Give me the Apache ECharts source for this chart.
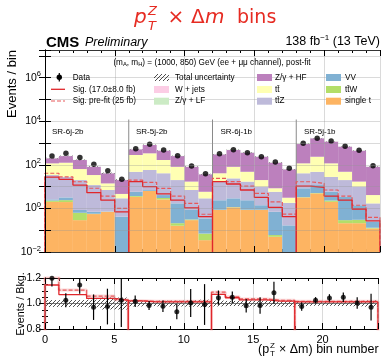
<!DOCTYPE html>
<html>
<head>
<meta charset="utf-8">
<title>pTZ x dm bins</title>
<script src="https://cdn.jsdelivr.net/npm/echarts@6.0.0/dist/echarts.min.js"></script>
<style>
  html, body { margin: 0; padding: 0; background: #fff; }
  #chart { width: 381px; height: 357px; }
</style>
</head>
<body>
<div id="chart"></div>
<script>
// bins of (pT^Z x dm), four signal regions of six bins each
const bins = [0, 1, 2, 3, 4, 5, 6, 7, 8, 9, 10, 11, 12, 13, 14, 15, 16, 17, 18, 19, 20, 21, 22, 23];
const regions = ['SR-6j-2b', 'SR-5j-2b', 'SR-6j-1b', 'SR-5j-1b'];

// post-fit backgrounds, events per bin
const singleT = [2.0, 1.96, 0.29, 0.55, 0.7, 0.005, 3.4, 6.3, 2.6, 0.16, 0.29, 0.035, 0.85, 1.12, 0.85, 0.85, 0.05, 0.005, 3.2, 4.9, 2.0, 0.21, 0.21, 0.12];
const ttW = [0.3, 0.44, 0.34, 0.02, 0.01, 0.001, 0.3, 0.1, 0.4, 0.05, 0.02, 0.035, 0.02, 0.03, 0.02, 0.02, 0.01, 0.002, 0.1, 0.2, 0.3, 0.08, 0.09, 0.01];
const VV = [0.3, 0.8, 0.22, 0.13, 0.02, 0.41, 2.1, 0.6, 1.1, 1.5, 0.54, 0.28, 1.5, 1.75, 1.5, 0.53, 0.64, 0.16, 5.1, 6.7, 3.5, 3.1, 1.1, 0.12];
const ttZ = [31.4, 24.8, 19.2, 11.1, 6.3, 2.5, 42, 51, 37, 18.3, 6.15, 2.55, 14.6, 21, 14.6, 8.6, 5.1, 1.63, 32.6, 36, 22, 16.6, 8.6, 1.45];
const ttbar = [83, 97, 44, 22.2, 7, 1.7, 234, 279, 125, 61, 10, 2.9, 24, 57, 31, 10, 2.6, 1.3, 76, 187, 89, 28, 7, 2.4];
const zHF = [83, 127, 102, 47, 27, 15.4, 233, 473, 279, 171, 64, 31, 261, 397, 312, 215, 117, 59, 783, 1415, 1033, 632, 428, 77];
const wJets = [0.5, 0.6, 0.4, 0.2, 0.1, 0.05, 1.2, 1.8, 1.0, 0.6, 0.2, 0.1, 0.8, 1.2, 0.9, 0.6, 0.3, 0.15, 2.5, 4.0, 3.0, 1.8, 1.2, 0.2];
const zLF = [4, 5, 3, 1.5, 0.8, 0.4, 10, 16, 9, 5, 1.6, 0.7, 6, 10, 7, 5, 2.5, 1.2, 18, 33, 23, 14, 9, 1.6];
const bkgUnc = [0.027, 0.027, 0.027, 0.03, 0.047, 0.047, 0.023, 0.02, 0.023, 0.023, 0.025, 0.03, 0.023, 0.02, 0.023, 0.023, 0.023, 0.025, 0.02, 0.018, 0.018, 0.02, 0.022, 0.025];

const dataObs = [252, 336, 215, 105, 54, 22, 550, 870, 478, 262, 88, 39, 324, 493, 362, 235, 135, 69, 970, 1650, 1230, 708, 464, 91];
const sigPost = [27, 21.6, 11.8, 5.3, 2.4, 0.7, 16.8, 9.9, 4.6, 2.4, 1.07, 0.42, 16.8, 13.2, 7, 3.2, 1.12, 0.42, 10.6, 9.3, 3.7, 2.4, 0.94, 0.27];
const sigPre = [41, 28, 16.7, 8.4, 3.7, 1.0, 20, 15.8, 8.3, 3.7, 1.7, 0.54, 24, 16.8, 10.6, 4.9, 2.0, 0.55, 16.7, 14.2, 7, 3.7, 1.4, 0.39];

// ratio panel
const ratioObs = [1.198, 1.025, 1.146, 0.971, 0.976, 1.025, 1.017, 0.984, 0.979, 0.936, 1.004, 0.992, 1.046, 1.049, 0.982, 0.984, 1.084, null, 0.976, 1.025, 1.044, 1.049, 1.004, 0.971];
const ratioErr = [0.065, 0.055, 0.07, 0.1, 0.14, 0.21, 0.045, 0.035, 0.045, 0.06, 0.11, 0.16, 0.056, 0.045, 0.053, 0.065, 0.086, 0.12, 0.032, 0.025, 0.029, 0.038, 0.046, 0.105];
const sigRatio = [1.145, 1.07, 1.07, 1.04, 1.04, 1.025, 1.02, 1.013, 1.013, 1.012, 1.012, 1.012, 1.071, 1.045, 1.028, 1.028, 1.018, 1.018, 1.013, 1.013, 1.012, 1.012, 1.012, 1.012];
const sigPreRatio = [1.21, 1.105, 1.105, 1.058, 1.058, 1.03, 1.022, 1.018, 1.018, 1.018, 1.018, 1.018, 1.089, 1.053, 1.036, 1.036, 1.026, 1.026, 1.018, 1.018, 1.017, 1.017, 1.017, 1.017];

const xTicks = [0, 5, 10, 15, 20];
const logTicks = [-2, 0, 2, 4, 6];

const FONT = '"Liberation Sans", Arial, sans-serif';
const RED = '#e0262b';
const RED_PRE = '#e8585b';
const YMIN = 0.01, YMAX = 1.86e7;

const hatchImg = (() => {
  const c = document.createElement('canvas');
  c.width = 4; c.height = 4;
  const g = c.getContext('2d');
  g.strokeStyle = '#000';
  g.lineWidth = 0.7;
  g.beginPath();
  g.moveTo(0, 4); g.lineTo(4, 0);
  g.moveTo(-1, 1); g.lineTo(1, -1);
  g.moveTo(3, 5); g.lineTo(5, 3);
  g.stroke();
  return c;
})();
const hatch = { image: hatchImg, repeat: 'repeat' };

// stacking order, bottom first
const bkgSeries = [
  ['single t', singleT, '#fdb462'],
  ['tt\u0304W', ttW, '#b3de69'],
  ['VV', VV, '#80b1d3'],
  ['tt\u0304Z', ttZ, '#bebada'],
  ['tt\u0304', ttbar, '#ffffb3'],
  ['Z/\u03b3 + HF', zHF, '#bc80bd'],
  ['W + jets', wJets, '#fccde5'],
  ['Z/\u03b3 + LF', zLF, '#ccebc5']
];

const totals = bins.map(i => bkgSeries.reduce((s, b) => s + b[1][i], 0));

function steps(vals, floor) {
  const pts = [];
  for (let r = 0; r < 4; r++) {
    pts.push([6 * r, floor]);
    for (let i = 6 * r; i < 6 * r + 6; i++) pts.push([i, vals[i]], [i + 1, vals[i]]);
    pts.push([6 * r + 6, floor]);
  }
  return pts;
}

function rectItem(fill) {
  return function (params, api) {
    const x = api.value(0);
    const lo = Math.max(api.value(1), YMIN);
    const hi = Math.max(api.value(2), YMIN);
    const a = api.coord([x, hi]);
    const b = api.coord([x + 1, lo]);
    return {
      type: 'rect',
      shape: { x: a[0], y: a[1], width: b[0] - a[0], height: b[1] - a[1] },
      style: { fill: fill, stroke: null }
    };
  };
}

function errItem(params, api) {
  const x = api.value(0);
  const a = api.coord([x, api.value(2)]);
  const b = api.coord([x, api.value(1)]);
  return {
    type: 'line',
    shape: { x1: a[0], y1: a[1], x2: b[0], y2: b[1] },
    style: { stroke: '#000', lineWidth: 1.2 }
  };
}

function sepItem(params, api) {
  const x = api.value(0);
  const a = api.coord([x, 1.2e4]);
  const b = api.coord([x, YMIN]);
  return {
    type: 'line',
    shape: { x1: a[0], y1: a[1], x2: b[0], y2: b[1] },
    style: { stroke: '#8a8a8a', lineWidth: 1 }
  };
}

function catAxis(grid, pos) {
  return {
    type: 'category', gridIndex: grid, position: pos, data: bins, boundaryGap: true,
    axisLine: { show: true, lineStyle: { color: '#000', width: 1 } },
    axisTick: { show: true, inside: true, length: 3, interval: 0, lineStyle: { color: '#000' } },
    axisLabel: { show: false }, splitLine: { show: false }
  };
}
function valAxis(grid, pos, labels, grid2) {
  return {
    type: 'value', gridIndex: grid, position: pos, min: 0, max: 24, interval: 5, z: 10,
    axisLine: { show: false },
    axisTick: { show: true, inside: true, length: 6, lineStyle: { color: '#000' } },
    axisLabel: {
      show: labels, color: '#000', fontFamily: FONT, fontSize: 11, margin: 5,
      formatter: v => (xTicks.indexOf(v) >= 0 ? String(v) : '')
    },
    splitLine: { show: grid2, lineStyle: { color: 'rgba(150,150,150,0.35)', width: 1 } }
  };
}

const logLabel = v => {
  const e = Math.log10(v);
  const r = Math.round(e);
  if (Math.abs(e - r) > 1e-6 || logTicks.indexOf(r) < 0) return '';
  return '10{sup|' + (r < 0 ? '\u2212' + (-r) : r) + '}';
};

const series = [];
// stacked backgrounds drawn as [bin, lower edge, upper edge]
const cum = bins.map(() => 0);
bkgSeries.forEach(b => {
  const rows = bins.map(i => {
    const lo = cum[i];
    cum[i] += b[1][i];
    return [i, lo, cum[i]];
  });
  series.push({
    name: b[0], type: 'custom', xAxisIndex: 1, yAxisIndex: 0, z: 2, silent: true,
    itemStyle: { color: b[2] }, renderItem: rectItem(b[2]), data: rows
  });
});
series.push({
  name: 'Total uncertainty', type: 'custom', xAxisIndex: 1, yAxisIndex: 0, z: 3,
  renderItem: rectItem(hatch),
  data: bins.map(i => [i, totals[i] * (1 - bkgUnc[i]), totals[i] * (1 + bkgUnc[i])])
});
series.push({
  name: 'separators', type: 'custom', xAxisIndex: 1, yAxisIndex: 0, z: 3,
  renderItem: sepItem, data: [[6], [12], [18]]
});
series.push({
  name: 'Sig. pre-fit (25 fb)', type: 'line', xAxisIndex: 1, yAxisIndex: 0, z: 4,
  data: steps(sigPre, YMIN), symbol: 'none',
  lineStyle: { color: RED_PRE, width: 1.2, type: [4, 2] }
});
series.push({
  name: 'Sig. (17.0\u00b18.0 fb)', type: 'line', xAxisIndex: 1, yAxisIndex: 0, z: 4,
  data: steps(sigPost, YMIN), symbol: 'none',
  lineStyle: { color: RED, width: 1.3 }
});
series.push({
  name: 'Data', type: 'scatter', xAxisIndex: 1, yAxisIndex: 0, z: 6,
  data: bins.map(i => [i + 0.5, dataObs[i]]),
  symbol: 'circle', symbolSize: 5.5, itemStyle: { color: '#000' }
});

// ratio panel
series.push({
  name: 'ratio unc', type: 'custom', xAxisIndex: 5, yAxisIndex: 2, z: 3,
  renderItem: rectItem(hatch),
  data: bins.map(i => [i, 1 - bkgUnc[i], 1 + bkgUnc[i]])
});
series.push({
  name: 'unity', type: 'line', xAxisIndex: 5, yAxisIndex: 2, z: 3,
  data: [[0, 1], [24, 1]], symbol: 'none', lineStyle: { color: '#555', width: 0.8 }
});
series.push({
  name: 'pre band', type: 'line', xAxisIndex: 5, yAxisIndex: 2, z: 4,
  data: steps(sigPreRatio, 0.7), symbol: 'none',
  lineStyle: { color: 'rgba(240,130,130,0.3)', width: 3 }
});
series.push({
  name: 'pre ratio', type: 'line', xAxisIndex: 5, yAxisIndex: 2, z: 4,
  data: steps(sigPreRatio, 0.7), symbol: 'none',
  lineStyle: { color: RED_PRE, width: 1.1, type: [4, 2] }
});
series.push({
  name: 'sig ratio', type: 'line', xAxisIndex: 5, yAxisIndex: 2, z: 4,
  data: steps(sigRatio, 0.7), symbol: 'none',
  lineStyle: { color: RED, width: 1.3 }
});
series.push({
  name: 'ratio err', type: 'custom', xAxisIndex: 5, yAxisIndex: 2, z: 5,
  renderItem: errItem,
  data: bins.filter(i => ratioObs[i] !== null).map(i => [i + 0.5,
    Math.max(0.8, ratioObs[i] - ratioErr[i]), Math.min(1.2, ratioObs[i] + ratioErr[i])])
});
series.push({
  name: 'ratio data', type: 'scatter', xAxisIndex: 5, yAxisIndex: 2, z: 6,
  data: bins.filter(i => ratioObs[i] !== null).map(i => [i + 0.5, ratioObs[i]]),
  symbol: 'circle', symbolSize: 5, itemStyle: { color: '#000' }
});

// legend and annotations
function txt(text, x, y, size, extra, el) {
  return Object.assign({
    type: 'text', z: 20,
    style: Object.assign({ text, x, y, fill: '#000', font: size + 'px ' + FONT, align: 'left', verticalAlign: 'middle' }, extra || {})
  }, el || {});
}
function box(x, y, fill) {
  return { type: 'rect', z: 20, shape: { x, y, width: 15, height: 7 }, style: { fill } };
}
const TF = '"DejaVu Sans", sans-serif';
const TITLE_RED = '#e62b22';
const legendRows = [77.3, 89.3, 101];
const graphic = [
  // title
  txt('p', 134, 18, 20, { font: 'italic 20px ' + TF, fill: TITLE_RED }),
  txt('Z', 148, 11.5, 13, { font: 'italic 13px ' + TF, fill: TITLE_RED }),
  txt('T', 148, 26.5, 13, { font: 'italic 13px ' + TF, fill: TITLE_RED }),
  txt('\u00d7', 176, 18, 20, { font: '20px ' + TF, fill: TITLE_RED, align: 'center' }),
  txt('\u0394', 191, 18, 20, { font: '20px ' + TF, fill: TITLE_RED }),
  txt('m', 205, 18, 20, { font: 'italic 20px ' + TF, fill: TITLE_RED }),
  txt('bins', 237, 18, 20, { font: '19px ' + TF, fill: TITLE_RED }),
  // experiment labels
  txt('CMS', 46, 50, 15, { font: 'bold 15px ' + FONT, verticalAlign: 'bottom' }),
  txt('Preliminary', 85, 49.5, 12.5, { font: 'italic 12.5px ' + FONT, verticalAlign: 'bottom' }),
  {
    type: 'text', z: 20,
    style: {
      text: '138 fb{sup|\u22121} (13 TeV)', x: 380, y: 49.5, align: 'right', verticalAlign: 'bottom',
      fill: '#000', font: '12.5px ' + FONT,
      rich: { sup: { fontSize: 8, fontFamily: FONT, verticalAlign: 'top', lineHeight: 16, padding: [0, 0, 8, 0] } }
    }
  },
  {
    type: 'text', z: 20,
    style: {
      text: '(m{sub|A}, m{sub|H}) = (1000, 850) GeV (ee + \u03bc\u03bc channel), post-fit', x: 212, y: 62.5,
      align: 'center', verticalAlign: 'middle', fill: '#000', font: '8.2px ' + FONT,
      rich: { sub: { fontSize: 5.8, fontFamily: FONT, padding: [4, 0, 0, 0] } }
    }
  },
  // legend column 1
  { type: 'line', z: 20, shape: { x1: 59.3, y1: 73, x2: 59.3, y2: 81.5 }, style: { stroke: '#000', lineWidth: 1.2 } },
  { type: 'circle', z: 20, shape: { cx: 59.3, cy: 77.3, r: 2.7 }, style: { fill: '#000' } },
  txt('Data', 72.7, legendRows[0], 8.2),
  { type: 'line', z: 20, shape: { x1: 51, y1: 89.3, x2: 65, y2: 89.3 }, style: { stroke: RED, lineWidth: 1.3 } },
  txt('Sig. (17.0\u00b18.0 fb)', 72.7, legendRows[1], 8.2),
  { type: 'line', z: 20, shape: { x1: 51, y1: 101, x2: 65, y2: 101 }, style: { stroke: RED_PRE, lineWidth: 1.2, lineDash: [4, 2] } },
  txt('Sig. pre-fit (25 fb)', 72.7, legendRows[2], 8.2),
  // column 2
  box(154, 74, hatch), txt('Total uncertainty', 175, legendRows[0], 8.2),
  box(154, 86, '#fccde5'), txt('W + jets', 175, legendRows[1], 8.2),
  box(154, 97.7, '#ccebc5'), txt('Z/\u03b3 + LF', 175, legendRows[2], 8.2),
  // column 3
  box(257, 74, '#bc80bd'), txt('Z/\u03b3 + HF', 275, legendRows[0], 8.2),
  box(257, 86, '#ffffb3'), txt('tt\u0304', 275, legendRows[1], 8.2),
  box(257, 97.7, '#bebada'), txt('tt\u0304Z', 275, legendRows[2], 8.2),
  // column 4
  box(326, 74, '#80b1d3'), txt('VV', 345, legendRows[0], 8.2),
  box(326, 86, '#b3de69'), txt('tt\u0304W', 345, legendRows[1], 8.2),
  box(326, 97.7, '#fdb462'), txt('single t', 345, legendRows[2], 8.2),
  // region labels
  txt(regions[0], 52, 132, 8),
  txt(regions[1], 136, 132, 8),
  txt(regions[2], 220.5, 132, 8),
  txt(regions[3], 304, 132, 8),
  // axis titles
  txt('Events / bin', 0, 0, 13, { align: 'right' }, { x: 12, y: 50, rotation: Math.PI / 2 }),
  txt('Events / Bkg.', 0, 0, 10.8, { align: 'center' }, { x: 21, y: 304, rotation: Math.PI / 2 }),
  txt('(p', 258, 350, 12.5),
  txt('Z', 270, 346, 8),
  txt('T', 270, 354, 8),
  txt(' \u00d7 \u0394m) bin number', 275.5, 350, 12.5)
];

const chart = echarts.init(document.getElementById('chart'), null, { renderer: 'canvas' });
chart.setOption({
  animation: false,
  backgroundColor: '#fff',
  textStyle: { fontFamily: FONT },
  grid: [
    { left: 45, top: 50, width: 335, height: 202, show: false },
    { left: 45, top: 278, width: 335, height: 51, show: false }
  ],
  xAxis: [
    catAxis(0, 'bottom'), valAxis(0, 'bottom', false, true),
    catAxis(0, 'top'), valAxis(0, 'top', false, false),
    catAxis(1, 'bottom'), valAxis(1, 'bottom', true, true),
    catAxis(1, 'top'), valAxis(1, 'top', false, false)
  ],
  yAxis: [
    {
      type: 'log', logBase: 10, gridIndex: 0, position: 'left', min: YMIN, max: YMAX, z: 10,
      axisLine: { show: true, lineStyle: { color: '#000' } },
      axisTick: { show: true, inside: true, length: 6, lineStyle: { color: '#000' } },
      axisLabel: {
        color: '#000', fontFamily: FONT, fontSize: 10.5, margin: 4, formatter: logLabel,
        rich: { sup: { fontSize: 7.5, fontFamily: FONT, color: '#000', padding: [0, 0, 7, 0] } }
      },
      splitLine: { show: true, lineStyle: { color: 'rgba(150,150,150,0.35)' } }
    },
    {
      type: 'log', logBase: 10, gridIndex: 0, position: 'right', min: YMIN, max: YMAX,
      axisLine: { show: true, lineStyle: { color: '#000' } },
      axisTick: { show: true, inside: true, length: 6, lineStyle: { color: '#000' } },
      axisLabel: { show: false }, splitLine: { show: false }
    },
    {
      type: 'value', gridIndex: 1, position: 'left', min: 0.8, max: 1.2, interval: 0.2,
      axisLine: { show: true, lineStyle: { color: '#000' } },
      axisTick: { show: true, inside: true, length: 6, lineStyle: { color: '#000' } },
      minorTick: { show: true, splitNumber: 4, length: 3, lineStyle: { color: '#000' } },
      axisLabel: { color: '#000', fontFamily: FONT, fontSize: 10.5, margin: 4, formatter: v => v.toFixed(1) },
      splitLine: { show: false }
    },
    {
      type: 'value', gridIndex: 1, position: 'right', min: 0.8, max: 1.2, interval: 0.2,
      axisLine: { show: true, lineStyle: { color: '#000' } },
      axisTick: { show: true, inside: true, length: 6, lineStyle: { color: '#000' } },
      minorTick: { show: true, splitNumber: 4, length: 3, lineStyle: { color: '#000' } },
      axisLabel: { show: false }, splitLine: { show: false }
    }
  ],
  graphic: graphic,
  series: series
});
</script>
</body>
</html>
